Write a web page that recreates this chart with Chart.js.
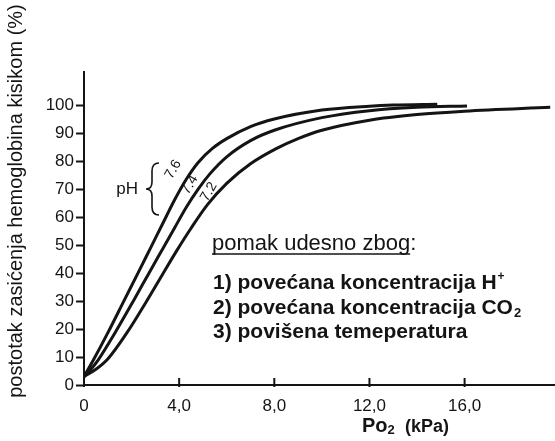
<!DOCTYPE html>
<html>
<head>
<meta charset="utf-8">
<script src="https://cdn.jsdelivr.net/npm/chart.js@4.4.0/dist/chart.umd.min.js"></script>
<style>
  html, body { margin: 0; padding: 0; background: #fff; }
  #wrap { width: 555px; height: 441px; }
</style>
</head>
<body>
<div id="wrap"><canvas id="odcChart" width="555" height="441"></canvas></div>
<script>
// ── Oxygen–haemoglobin dissociation curves, pH 7.6 / 7.4 / 7.2 ──

// PO2 (kPa) and saturation (%)
const po2_76 = [0, 0.4, 1.0, 1.7, 2.3, 2.8, 3.3, 3.8, 4.3, 4.8, 5.4, 6.0, 7.0, 8.0, 10.0, 12.0, 13.0, 14.85];
const sat_76 = [3, 9, 18.6, 30.4, 40.5, 49, 57.5, 66, 73.5, 79.5, 84.5, 88, 92.3, 95, 98.2, 99.6, 100, 100.3];

const po2_74 = [0, 0.3, 0.6, 1.3, 2.1, 2.7, 3.3, 3.8, 4.3, 4.8, 5.3, 6.0, 7.0, 8.0, 10.0, 12.0, 14.0, 16.1];
const sat_74 = [3, 5.7, 9, 18.6, 30.4, 39.5, 48.5, 56, 63.5, 70, 75.5, 81.5, 87.3, 91, 95.5, 98, 99.2, 99.7];

const po2_72 = [0, 0.5, 1.0, 1.8, 2.6, 3.3, 3.9, 4.5, 5.2, 6.0, 7.0, 8.1, 9.0, 10.0, 12.0, 14.0, 16.0, 19.6];
const sat_72 = [3, 5.6, 9.3, 18.6, 29.5, 39.5, 48, 56, 64.5, 72, 79, 84.5, 88, 91, 94.6, 96.6, 97.8, 99.2];

const xTicks = [0, 4, 8, 12, 16];
const yTicks = [0, 10, 20, 30, 40, 50, 60, 70, 80, 90, 100];
const phLabels = ['7.6', '7.4', '7.2'];

const toPoints = (xs, ys) => xs.map((x, i) => ({ x: x, y: ys[i] }));
const INK = '#141414';
const FONT = '"Liberation Sans", Arial, sans-serif';

const curve = (pts) => ({
  data: pts, borderColor: INK, borderWidth: 3, pointRadius: 0,
  cubicInterpolationMode: 'monotone', fill: false
});

// labels, brace, legend text and axis titles
const annotations = {
  id: 'annotations',
  afterDraw(chart) {
    const ctx = chart.ctx;
    const xs = chart.scales.x, ys = chart.scales.y;
    ctx.save();
    ctx.fillStyle = INK;
    ctx.strokeStyle = INK;

    // x tick marks pointing up into the plot
    ctx.lineWidth = 2;
    xTicks.forEach(v => {
      const px = xs.getPixelForValue(v);
      ctx.beginPath(); ctx.moveTo(px, ys.bottom + 2); ctx.lineTo(px, ys.bottom - 7); ctx.stroke();
    });

    // y title
    ctx.save();
    ctx.translate(16, 201);
    ctx.rotate(-Math.PI / 2);
    ctx.font = '20px ' + FONT;
    ctx.textAlign = 'center'; ctx.textBaseline = 'middle';
    ctx.fillText('postotak zasićenja hemoglobina kisikom (%)', 0, 0);
    ctx.restore();

    // x title  Po2 (kPa)
    ctx.textBaseline = 'alphabetic'; ctx.textAlign = 'left';
    let tx = 362; const ty = 432;
    ctx.font = 'bold 20px ' + FONT;
    ctx.fillText('Po', tx, ty); tx += ctx.measureText('Po').width;
    ctx.font = 'bold 13px ' + FONT;
    ctx.fillText('2', tx, ty + 2);
    ctx.font = 'bold 18px ' + FONT;
    ctx.fillText('(kPa)', 405, ty);

    // pH with brace
    ctx.font = '17px ' + FONT;
    ctx.textAlign = 'right'; ctx.textBaseline = 'middle';
    ctx.fillText('pH', 138, 189);
    ctx.lineWidth = 1.6;
    ctx.beginPath();
    ctx.moveTo(159, 163);
    ctx.quadraticCurveTo(152, 163, 152, 171);
    ctx.lineTo(152, 182);
    ctx.quadraticCurveTo(152, 189, 146, 189);
    ctx.quadraticCurveTo(152, 189, 152, 196);
    ctx.lineTo(152, 207);
    ctx.quadraticCurveTo(152, 215, 159, 215);
    ctx.stroke();

    // rotated pH values along the curves
    const labelPos = [[3.75, 77], [4.45, 71.5], [5.25, 69]];
    ctx.font = '14px ' + FONT;
    ctx.textAlign = 'center'; ctx.textBaseline = 'middle';
    labelPos.forEach((p, i) => {
      ctx.save();
      ctx.translate(xs.getPixelForValue(p[0]), ys.getPixelForValue(p[1]));
      ctx.rotate(-Math.PI / 3);
      ctx.fillText(phLabels[i], 0, 0);
      ctx.restore();
    });

    // right-shift causes
    ctx.textAlign = 'left'; ctx.textBaseline = 'alphabetic';
    ctx.font = '22px ' + FONT;
    const head = 'pomak udesno zbog';
    ctx.fillText(head + ':', 212, 250);
    const hw = ctx.measureText(head).width;
    ctx.lineWidth = 1.6;
    ctx.beginPath(); ctx.moveTo(212, 254); ctx.lineTo(212 + hw, 254); ctx.stroke();

    ctx.font = 'bold 21px ' + FONT;
    let s = '1) povećana koncentracija H';
    ctx.fillText(s, 213, 289);
    let w = ctx.measureText(s).width;
    ctx.font = 'bold 12px ' + FONT;
    ctx.fillText('+', 213 + w + 1, 280);

    ctx.font = 'bold 21px ' + FONT;
    s = '2) povećana koncentracija CO';
    ctx.fillText(s, 213, 314);
    w = ctx.measureText(s).width;
    ctx.font = 'bold 13px ' + FONT;
    ctx.fillText('2', 213 + w + 1, 317);

    ctx.font = 'bold 21px ' + FONT;
    ctx.fillText('3) povišena temeperatura', 213, 338);
    ctx.restore();
  }
};

new Chart(document.getElementById('odcChart').getContext('2d'), {
  type: 'line',
  data: {
    datasets: [
      curve(toPoints(po2_76, sat_76)),
      curve(toPoints(po2_74, sat_74)),
      curve(toPoints(po2_72, sat_72))
    ]
  },
  options: {
    responsive: false, animation: false, devicePixelRatio: 1,
    layout: { padding: { top: 72, right: 0, bottom: 0, left: 0 } },
    plugins: { legend: { display: false }, tooltip: { enabled: false } },
    scales: {
      x: {
        type: 'linear', min: 0, max: 19.8,
        afterFit: s => { s.height = 56; },
        afterBuildTicks: s => { s.ticks = xTicks.map(v => ({ value: v })); },
        grid: { drawOnChartArea: false, drawTicks: false },
        border: { color: INK, width: 2 },
        ticks: {
          padding: 11, color: INK, font: { family: FONT, size: 17 },
          callback: v => v === 0 ? '0' : v.toFixed(1).replace('.', ',')
        }
      },
      y: {
        min: 0, max: 111.8,
        afterFit: s => { s.width = 84; },
        afterBuildTicks: s => { s.ticks = yTicks.map(v => ({ value: v })); },
        grid: { drawOnChartArea: false, tickLength: 8, color: INK, tickWidth: 2 },
        border: { color: INK, width: 2 },
        ticks: { padding: 2, color: INK, font: { family: FONT, size: 17 } }
      }
    }
  },
  plugins: [annotations]
});
</script>
</body>
</html>
